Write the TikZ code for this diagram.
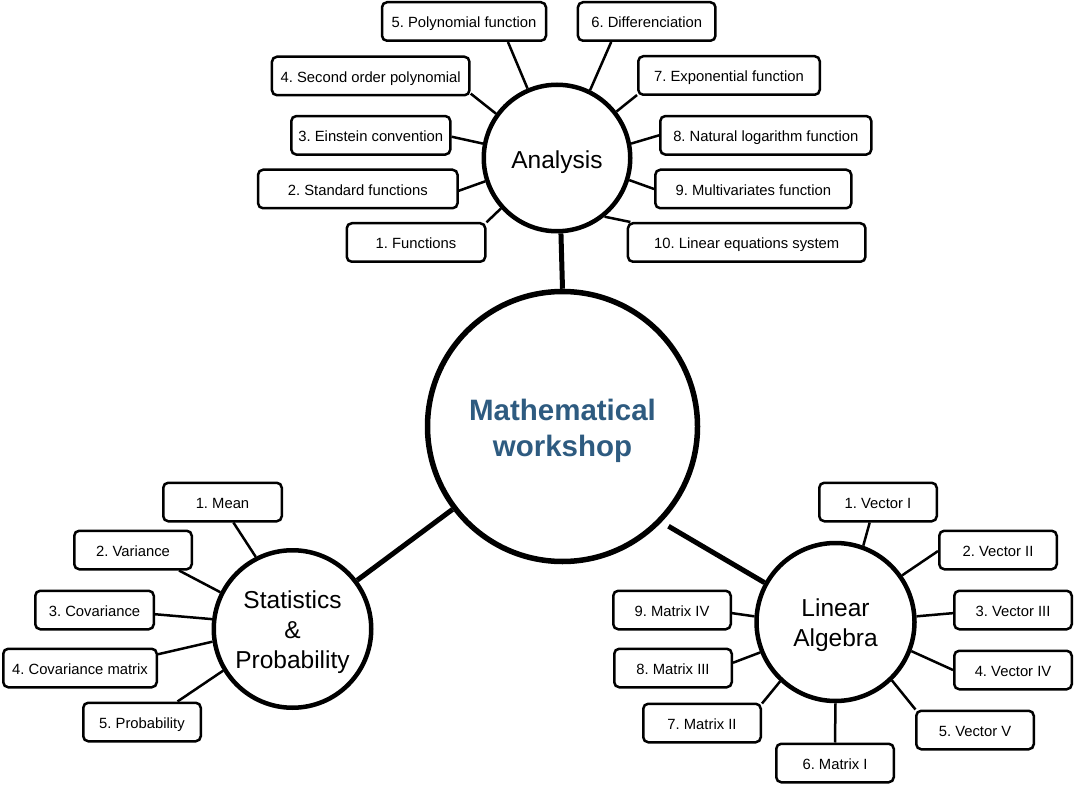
\documentclass[tikz,border=0pt]{standalone}
\usepackage{fontspec}
\setmainfont{Liberation Sans}
\frenchspacing
\definecolor{titleblue}{RGB}{46,91,128}
\begin{document}
\begin{tikzpicture}[x=1pt,y=-1pt,
  leaf/.style={draw, line width=2.5pt, rounded corners=5pt, minimum height=38.5pt, inner sep=0pt,
    text height=12.6pt, text depth=0pt, font=\fontsize{14.8}{17}\selectfont},
  hub/.style={draw, circle, line width=4.5pt, inner sep=0pt},
  hubtext/.style={align=center, inner sep=0pt, font=\fontsize{24.5}{30}\selectfont},
  link/.style={line width=2.5pt},
  trunk/.style={line width=5pt}]
\useasboundingbox (0,0) rectangle (1076,786);

% hubs
\node[hub, line width=5.5pt, minimum size=270pt,
  label={[hubtext, text=titleblue, yshift=-4.5pt, font=\bfseries\fontsize{29.5}{36.6}\selectfont]center:Mathematical\\workshop}] (main) at (562.5,426.5) {};
\node[hub, minimum size=146.5pt, label={[hubtext, text height=17.5pt, text depth=0pt, yshift=-2pt]center:Analysis}] (an) at (557,158) {};
\node[hub, minimum size=157.5pt, label={[hubtext, yshift=-3.5pt]center:Statistics\\\&\\Probability}] (st) at (292.5,629) {};
\node[hub, minimum size=158pt, label={[hubtext, yshift=-3.5pt]center:Linear\\Algebra}] (la) at (835.5,622) {};

% Analysis leaves
\node[leaf, minimum width=138.5pt] (a1) at (416,242.5) {1. Functions};
\node[leaf, minimum width=199.5pt] (a2) at (357.8,189) {2. Standard functions};
\node[leaf, minimum width=159pt] (a3) at (370.8,135.3) {3. Einstein convention};
\node[leaf, minimum width=197.5pt] (a4) at (370.7,76) {4. Second order polynomial};
\node[leaf, minimum width=164pt] (a5) at (464,21.5) {5. Polynomial function};
\node[leaf, minimum width=137.5pt] (a6) at (646.7,21.5) {6. Differenciation};
\node[leaf, minimum width=181.5pt] (a7) at (729,75.5) {7. Exponential function};
\node[leaf, minimum width=211pt] (a8) at (765.8,135.3) {8. Natural logarithm function};
\node[leaf, minimum width=196pt] (a9) at (753.3,189) {9. Multivariates function};
\node[leaf, minimum width=237.5pt] (a10) at (746.7,242.5) {10. Linear equations system};

% Statistics leaves
\node[leaf, minimum width=118.5pt] (s1) at (222.5,502) {1. Mean};
\node[leaf, minimum width=117.5pt] (s2) at (133,550) {2. Variance};
\node[leaf, minimum width=118.5pt] (s3) at (94.5,610) {3. Covariance};
\node[leaf, minimum width=153.5pt] (s4) at (80,668) {4. Covariance matrix};
\node[leaf, minimum width=117.5pt] (s5) at (142,722) {5. Probability};

% Linear algebra leaves
\node[leaf, minimum width=117.5pt] (l1) at (878,502) {1. Vector I};
\node[leaf, minimum width=117.5pt] (l2) at (998,550) {2. Vector II};
\node[leaf, minimum width=117.5pt] (l3) at (1013,610) {3. Vector III};
\node[leaf, minimum width=117.5pt] (l4) at (1013,670) {4. Vector IV};
\node[leaf, minimum width=117.5pt] (l5) at (975,730) {5. Vector V};
\node[leaf, minimum width=117.5pt] (l6) at (835,763) {6. Matrix I};
\node[leaf, minimum width=117.5pt] (l7) at (702,723) {7. Matrix II};
\node[leaf, minimum width=117.5pt] (l8) at (673,668) {8. Matrix III};
\node[leaf, minimum width=117.5pt] (l9) at (672,610) {9. Matrix IV};

% trunks
\draw[trunk] (an.-87.7) -- (main.90);
\draw[trunk] (main.217.3) -- (st.37.9);
\draw[trunk, shorten <=8pt] (main.-44.7) -- (la.151.1);

% Analysis links
\draw[link] (a1.16.3) -- (an.222.4);
\draw[link] (a2.-1.1) -- (an.198.2);
\draw[link] (a3.-1.2) -- (an.169.3);
\draw[link] (a4.-10.9) -- (an.144);
\draw[link] (a5.-25.5) -- (an.113.2);
\draw[link] (a6.210.6) -- (an.64.8);
\draw[link] (a7.192.1) -- (an.38.2);
\draw[link] (a8.180) -- (an.11.9);
\draw[link] (a9.180) -- (an.-17.7);
\draw[link] (a10.170.7) -- (an.-51.8);

% Statistics links
\draw[link] (s1.-62.3) -- (st.117.8);
\draw[link] (s2.-24) -- (st.153.9);
\draw[link] (s3.-4.7) -- (st.173.6);
\draw[link] (s4.10.9) -- (st.189.2);
\draw[link] (s5.30.5) -- (st.211.4);

% Linear algebra links
\draw[link] (l1.248) -- (la.70.8);
\draw[link] (l2.181.9) -- (la.35.2);
\draw[link] (l3.183.8) -- (la.4.2);
\draw[link] (l4.180) -- (la.-21.8);
\draw[link] (l5.161.6) -- (la.-46.7);
\draw[link] (l6.north) -- (la.south);
\draw[link] (l7.18.4) -- (la.227.7);
\draw[link] (l8.5.7) -- (la.202.3);
\draw[link] (l9.-3.8) -- (la.176.5);
\end{tikzpicture}
\end{document}
